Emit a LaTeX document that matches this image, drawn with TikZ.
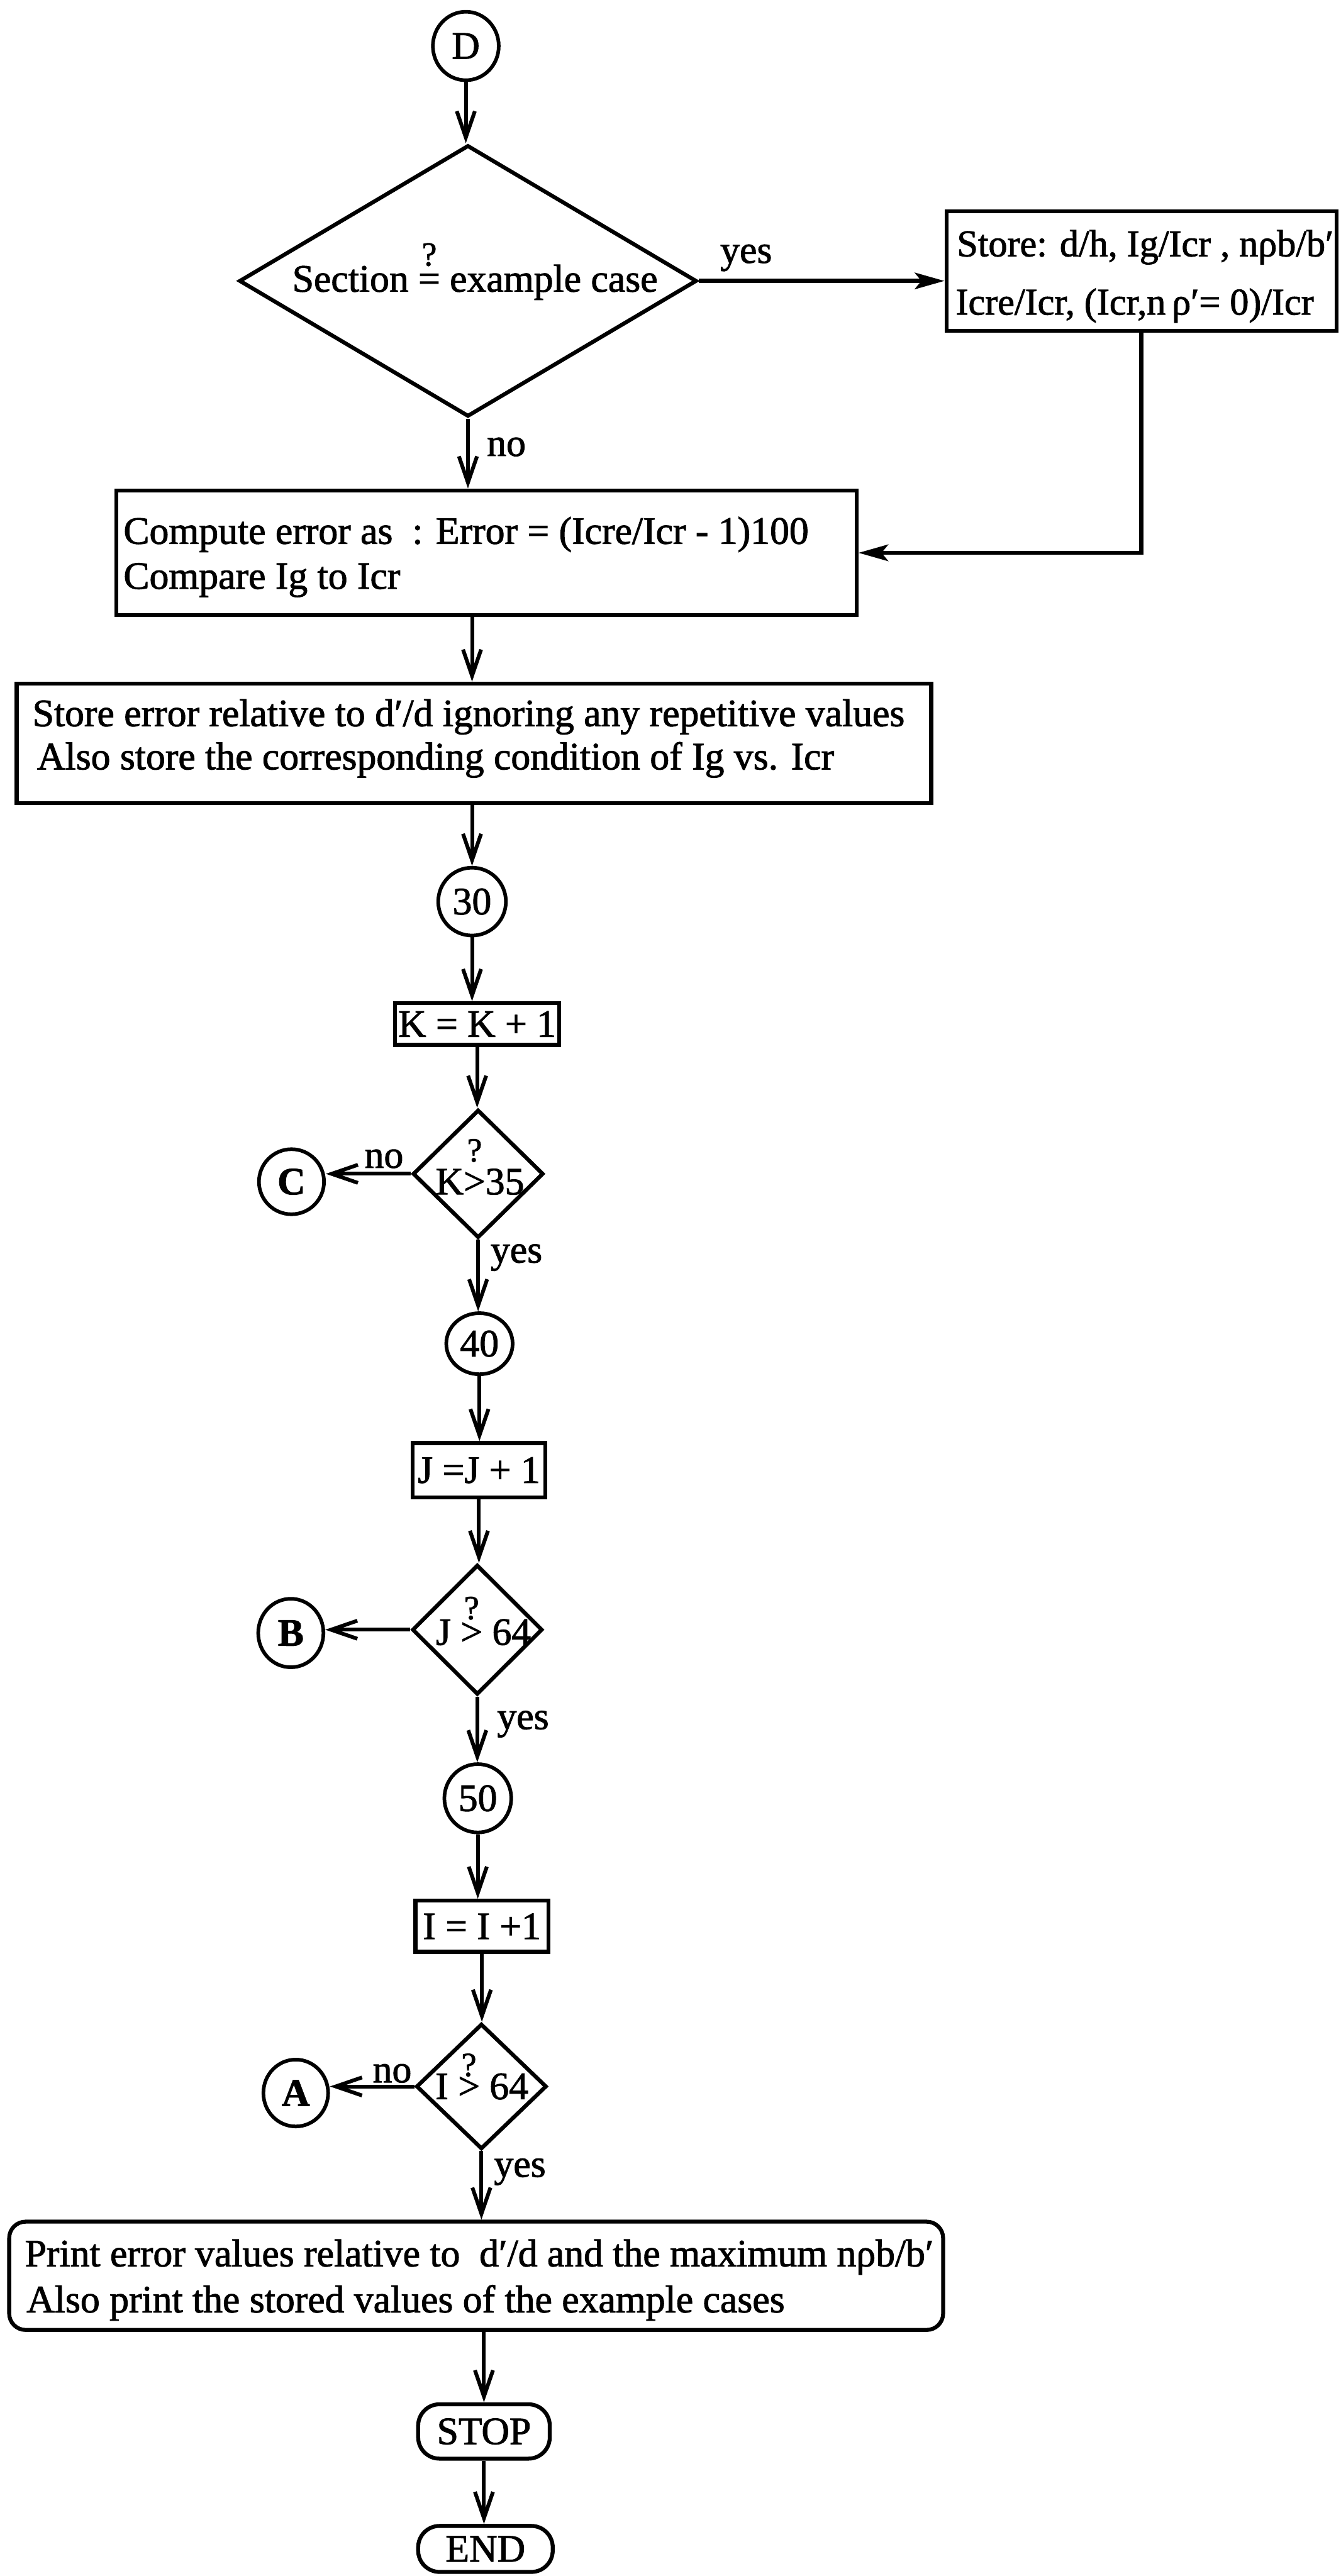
\documentclass[tikz,border=0pt]{standalone}
\usepackage{fontspec}
\setmainfont{Liberation Serif}[FakeBold=1.6]
\usetikzlibrary{shapes.geometric,arrows.meta}

% a small question mark set above a relation sign
\newcommand{\qover}[2]{\leavevmode\setbox0\hbox{#2}%
  \hbox to \wd0{\hss\raisebox{#1}[0pt][0pt]{\fontsize{10.3}{10.3}\selectfont ?}\hss}%
  \kern-\wd0\box0\relax}

\tikzset{
  every node/.style={font=\fontsize{11.8}{13.5}\selectfont, inner sep=0pt},
  box/.style={draw, line width=1.2pt, rectangle},
  rbox/.style={draw, line width=1.2pt, rectangle, rounded corners=5pt},
  term/.style={draw, line width=1.2pt, rectangle, rounded corners=6.5pt},
  decision/.style={draw, line width=1.2pt, diamond},
  conn/.style={draw, line width=1.1pt, ellipse},
  txt/.style={anchor=base west},
  arr/.style={line width=1.15pt, -{Straight Barb[length=8pt,width=5.5pt]}},
  farr/.style={line width=1.3pt, -{Stealth[length=9pt,width=5pt,inset=2pt]}},
}

\begin{document}
\begin{tikzpicture}[x=0.5pt, y=-0.5pt]
\useasboundingbox (0,0) rectangle (816,1568);

% ---- entry and first decision
\node[conn, minimum width=20.05pt, minimum height=20.85pt] (D) at (283.5,28) {D};
\node[decision, minimum width=139.25pt, minimum height=82.6pt] (q1) at (284.8,171) {};
\node[txt] (q1t) at (177.5,177.5) {Section \qover{7.9pt}{=} example case};

\node[box, minimum width=118.75pt, minimum height=36.3pt] (store) at (694.75,165) {};
\node[txt, font=\fontsize{11.5}{11.5}\selectfont] (store1) at (582,156) {Store: d/h, Ig/Icr , nρb/b′};
\node[txt, font=\fontsize{11.5}{11.5}\selectfont] (store2) at (581.3,191.5) {Icre/Icr, (Icr,n\,ρ′= 0)/Icr};

% ---- error computation
\node[box, minimum width=225.3pt, minimum height=38pt] (comp) at (296,336.5) {};
\node[txt] (comp1) at (74.8,331) {Compute error as \ : Error = (Icre/Icr - 1)100};
\node[txt] (comp2) at (74.8,358.4) {Compare Ig to Icr};

\node[box, minimum width=278.3pt, minimum height=36.4pt] (serr) at (288.4,452.5) {};
\node[txt] (serr1) at (19.4,442) {Store error relative to d′/d ignoring any repetitive values};
\node[txt] (serr2) at (22.2,468.3) {Also store the corresponding condition of Ig vs. Icr};

% ---- K loop
\node[conn, minimum width=20.6pt, minimum height=20.65pt] (c30) at (287.3,548.8) {30};
\node[box, minimum width=49.95pt, minimum height=12.7pt] (kbox) at (290.4,623.3) {K = K + 1};
\node[decision, minimum width=39.75pt, minimum height=39pt] (kq) at (291,714.5) {};
\node[txt] (kqt) at (264.7,727) {K\qover{10pt}{>}35};
\node[conn, minimum width=19.8pt, minimum height=19.8pt] (C) at (177.4,719.3) {\bfseries C};

% ---- J loop
\node[conn, minimum width=20.2pt, minimum height=18.6pt] (c40) at (291.8,817.9) {40};
\node[box, minimum width=40.35pt, minimum height=16.5pt] (jbox) at (291.5,894.9) {J =J + 1};
\node[decision, minimum width=39.65pt, minimum height=39.5pt] (jq) at (290.5,992) {};
\node[txt] (jqt) at (264.9,1001.2) {J \qover{7.8pt}{>} 64};
\node[conn, minimum width=19.85pt, minimum height=20.85pt] (B) at (177,994) {\bfseries B};

% ---- I loop
\node[conn, minimum width=20.35pt, minimum height=20.8pt] (c50) at (290.8,1094.6) {50};
\node[box, minimum width=40.45pt, minimum height=15.55pt] (ibox) at (293.3,1172.5) {I = I +1};
\node[decision, minimum width=39.7pt, minimum height=38.15pt] (iq) at (293,1270) {};
\node[txt] (iqt) at (264.6,1277.7) {I \qover{7pt}{>} 64};
\node[conn, minimum width=19.7pt, minimum height=20.35pt] (A) at (180,1274) {\bfseries A};

% ---- output and end
\node[rbox, minimum width=284.2pt, minimum height=32.95pt] (print) at (289.8,1385.25) {};
\node[txt] (print1) at (14.8,1379.5) {Print error values relative to \ d′/d and the maximum nρb/b′};
\node[txt] (print2) at (15.8,1407.5) {Also print the stored values of the example cases};
\node[term, minimum width=40.05pt, minimum height=16.55pt] (stop) at (294.55,1480) {STOP};
\node[term, minimum width=40.95pt, minimum height=14pt] (fin) at (295.45,1551.5) {END};

% ---- branch labels
\node[txt] (q1yes) at (438,160) {yes};
\node[txt] (q1no) at (296,277.5) {no};
\node[txt] (kno) at (221.5,710.8) {no};
\node[txt] (kyes) at (298.2,768.5) {yes};
\node[txt] (jyes) at (302.2,1052.5) {yes};
\node[txt] (ino) at (226.5,1267.5) {no};
\node[txt] (iyes) at (300.3,1325) {yes};

% ---- connectors
\draw[arr] (D.south) -- (D.south |- q1.north);
\draw[arr] (q1.south) -- (q1.south |- comp.north);
\draw[farr] (q1.east) -- (q1.east -| store.west);
\draw[farr] (store.south) |- (comp.east);
\draw[arr] (c30 |- comp.south) -- (c30 |- serr.north);
\draw[arr] (c30 |- serr.south) -- (c30.north);
\draw[arr] (c30.south) -- (c30.south |- kbox.north);
\draw[arr] (kbox.south) -- (kbox.south |- kq.north);
\draw[arr] (kq.west) -- (kq.west -| C.east);
\draw[arr] (kq.south) -- (kq.south |- c40.north);
\draw[arr] (c40.south) -- (c40.south |- jbox.north);
\draw[arr] (jbox.south) -- (jbox.south |- jq.north);
\draw[arr] (jq.west) -- (jq.west -| B.east);
\draw[arr] (jq.south) -- (jq.south |- c50.north);
\draw[arr] (c50.south) -- (c50.south |- ibox.north);
\draw[arr] (ibox.south) -- (ibox.south |- iq.north);
\draw[arr] (iq.west) -- (iq.west -| A.east);
\draw[arr] (iq.south) -- (iq.south |- print.north);
\draw[arr] (stop.north |- print.south) -- (stop.north);
\draw[arr] (stop.south) -- (stop.south |- fin.north);
\end{tikzpicture}
\end{document}
